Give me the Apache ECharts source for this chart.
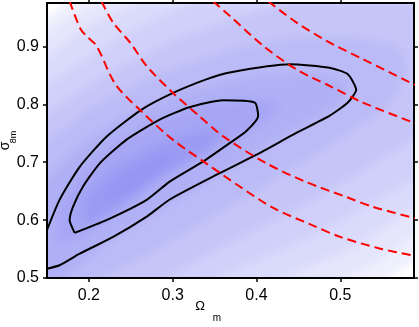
<!DOCTYPE html>
<html lang="en">
<head>
    <meta charset="UTF-8">
    <title>Omega_m - sigma_8</title>
    <script src="https://cdn.jsdelivr.net/npm/echarts@6/dist/echarts.min.js"></script>
    <style>
        html, body { margin: 0; padding: 0; background: #fff; }
        #stage { position: relative; width: 419px; height: 327px; }
        /* plot area window for the blurred shading */
        #bgClip { position: absolute; left: 47px; top: 3px; width: 367px; height: 275px; overflow: hidden; }
        #bg { position: absolute; left: -47px; top: -3px; width: 419px; height: 327px; filter: blur(4px); }
        #main { position: absolute; left: 0; top: 0; width: 419px; height: 327px; }
    </style>
</head>
<body>
<div id="stage">
    <div id="bgClip"><div id="bg"></div></div>
    <div id="main"></div>
</div>
<script type="text/javascript">
    // axis ticks
    var xTicks = [0.2, 0.3, 0.4, 0.5];
    var yTicks = [0.5, 0.6, 0.7, 0.8, 0.9];

    // black likelihood contours (Omega_m, sigma_8)
    var outerContour = [[0.150,0.583],[0.165,0.635],[0.189,0.692],[0.221,0.744],[0.262,0.790],[0.298,0.818],[0.340,0.843],[0.368,0.855],[0.440,0.869],[0.487,0.863],[0.509,0.852],[0.519,0.825],[0.509,0.803],[0.487,0.780],[0.448,0.751],[0.400,0.713],[0.356,0.681],[0.297,0.636],[0.269,0.606],[0.229,0.571],[0.189,0.542],[0.165,0.522],[0.150,0.516]];
    var innerContour = [[0.183,0.578],[0.177,0.600],[0.181,0.623],[0.193,0.658],[0.213,0.698],[0.245,0.739],[0.285,0.774],[0.320,0.795],[0.360,0.807],[0.398,0.803],[0.402,0.780],[0.388,0.754],[0.368,0.733],[0.336,0.701],[0.296,0.666],[0.269,0.635],[0.221,0.600],[0.183,0.578]];

    // red dashed constraint curves
    var redA = [[0.177,0.978],[0.190,0.930],[0.197,0.918],[0.209,0.901],[0.232,0.834],[0.264,0.786],[0.300,0.739],[0.340,0.698],[0.380,0.658],[0.420,0.621],[0.467,0.591],[0.500,0.571],[0.547,0.551],[0.590,0.538]];
    var redB = [[0.215,0.978],[0.229,0.941],[0.249,0.907],[0.269,0.866],[0.300,0.820],[0.330,0.782],[0.360,0.745],[0.412,0.698],[0.459,0.666],[0.507,0.640],[0.539,0.623],[0.590,0.603]];
    var redC = [[0.348,0.978],[0.368,0.953],[0.408,0.901],[0.448,0.860],[0.487,0.832],[0.527,0.803],[0.590,0.767]];
    var redD = [[0.414,0.978],[0.448,0.941],[0.487,0.907],[0.527,0.878],[0.590,0.833]];

    // shaded likelihood levels (region above each level)
    var shadeLevels = [0.1, 0.2, 0.3, 0.4, 0.5, 0.6, 0.7, 0.8, 0.9, 1.0];
    var shade1 = [[0.11,0.925],[0.14,0.943],[0.163,0.963],[0.185,0.985],[0.20,1.0],[0.63,1.0],[0.63,0.545],[0.588,0.53],[0.572,0.512],[0.545,0.49],[0.53,0.465],[0.11,0.465]];
    var shade2 = [[0.11,0.89],[0.14,0.912],[0.18,0.952],[0.225,0.985],[0.245,1.0],[0.63,1.0],[0.63,0.6],[0.588,0.575],[0.545,0.53],[0.487,0.49],[0.46,0.465],[0.11,0.465]];
    var shade3 = [[0.11,0.845],[0.14,0.872],[0.2,0.935],[0.275,0.985],[0.30,1.0],[0.63,1.0],[0.63,0.64],[0.588,0.62],[0.51,0.55],[0.415,0.49],[0.38,0.465],[0.11,0.465]];
    var shade4 = [[0.11,0.795],[0.14,0.822],[0.235,0.915],[0.335,0.985],[0.36,1.0],[0.63,1.0],[0.63,0.69],[0.588,0.67],[0.47,0.575],[0.335,0.49],[0.30,0.465],[0.11,0.465]];
    var shade5 = [[0.11,0.745],[0.14,0.772],[0.22,0.85],[0.31,0.915],[0.38,0.95],[0.455,0.985],[0.49,1.0],[0.63,1.0],[0.63,0.76],[0.588,0.74],[0.52,0.68],[0.45,0.62],[0.36,0.555],[0.275,0.49],[0.24,0.465],[0.11,0.465]];
    var shade6 = [[0.11,0.69],[0.14,0.722],[0.2,0.79],[0.28,0.85],[0.37,0.895],[0.45,0.915],[0.52,0.915],[0.57,0.9],[0.58,0.86],[0.56,0.8],[0.5,0.74],[0.42,0.67],[0.34,0.6],[0.27,0.54],[0.2,0.49],[0.17,0.465],[0.11,0.465]];
    var shade7 = [[0.11,0.62],[0.14,0.66],[0.19,0.73],[0.25,0.785],[0.32,0.825],[0.4,0.85],[0.47,0.855],[0.51,0.84],[0.5,0.8],[0.45,0.76],[0.38,0.7],[0.3,0.63],[0.23,0.57],[0.17,0.5],[0.15,0.475],[0.11,0.465]];
    var shade8 = [[0.16,0.56],[0.165,0.63],[0.19,0.68],[0.23,0.73],[0.28,0.77],[0.34,0.8],[0.4,0.81],[0.43,0.8],[0.41,0.77],[0.36,0.73],[0.3,0.68],[0.24,0.62],[0.19,0.57]];
    var shade9 = [[0.19,0.6],[0.2,0.65],[0.23,0.69],[0.28,0.73],[0.33,0.755],[0.36,0.755],[0.34,0.72],[0.29,0.68],[0.24,0.63],[0.21,0.6]];
    var shade10 = [[0.215,0.63],[0.235,0.67],[0.27,0.7],[0.3,0.715],[0.3,0.7],[0.27,0.67],[0.24,0.64]];
    var shadePolys = [shade1, shade2, shade3, shade4, shade5, shade6, shade7, shade8, shade9, shade10];

    // white -> peak blue
    function shadeColor(t) {
        var r = Math.round(255 - 105 * t);
        var b = Math.round(255 - 12 * t);
        return 'rgb(' + r + ',' + r + ',' + b + ')';
    }

    var font = '"Liberation Sans", Arial, sans-serif';
    var gridBox = { left: 47, right: 5, top: 3, bottom: 49, containLabel: false, outerBoundsMode: 'none' };
    var xRange = { min: 0.15, max: 0.588 };
    var yRange = { min: 0.5, max: 0.975 };

    // ---- background shading (blurred layer) ----
    var bgChart = echarts.init(document.getElementById('bg'), null, { renderer: 'canvas' });
    var bgSeries = [];
    shadePolys.forEach(function (poly, i) {
        var t = Math.min(1, shadeLevels[i] + 0.05);
        bgSeries.push({
            type: 'custom',
            silent: true,
            clip: false,
            data: poly,
            renderItem: function (params, api) {
                if (params.dataIndex !== 0) return;
                var pts = poly.map(function (p) { return api.coord(p); });
                return { type: 'polygon', shape: { points: pts }, style: { fill: shadeColor(t), stroke: null } };
            }
        });
    });
    bgChart.setOption({
        animation: false,
        grid: gridBox,
        xAxis: { type: 'value', min: xRange.min, max: xRange.max, show: false },
        yAxis: { type: 'value', min: yRange.min, max: yRange.max, show: false },
        series: bgSeries
    });

    // ---- lines, axes and labels ----
    var chart = echarts.init(document.getElementById('main'), null, { renderer: 'canvas' });

    function blackLine(d) {
        return { type: 'line', data: d, symbol: 'none', silent: true, clip: true, smooth: 0.2,
                 lineStyle: { color: '#000', width: 2 } };
    }
    function redLine(d) {
        return { type: 'line', data: d, symbol: 'none', silent: true, clip: true, smooth: 0.3,
                 lineStyle: { color: '#ff0000', width: 2, type: [9, 5] } };
    }

    var axisLine = { show: true, onZero: false, lineStyle: { color: '#000', width: 2 } };
    var tickLine = { color: '#000', width: 1.5 };
    function tickFmt(v) { return v.toFixed(1); }

    chart.setOption({
        animation: false,
        grid: gridBox,
        xAxis: [{
            type: 'value', min: xRange.min, max: xRange.max, position: 'bottom',
            axisLine: axisLine,
            axisTick: { show: true, length: 4, customValues: xTicks, lineStyle: tickLine },
            axisLabel: { color: '#000', fontSize: 16, fontFamily: font, margin: 10, customValues: xTicks, formatter: tickFmt },
            splitLine: { show: false }
        }, {
            type: 'value', min: xRange.min, max: xRange.max, position: 'top',
            axisLine: axisLine,
            axisTick: { show: true, length: 3, customValues: xTicks, lineStyle: tickLine },
            axisLabel: { show: false },
            splitLine: { show: false }
        }],
        yAxis: [{
            type: 'value', min: yRange.min, max: yRange.max, position: 'left',
            axisLine: axisLine,
            axisTick: { show: true, length: 4, customValues: yTicks, lineStyle: tickLine },
            axisLabel: { color: '#000', fontSize: 16, fontFamily: font, margin: 8, customValues: yTicks, formatter: tickFmt },
            splitLine: { show: false }
        }, {
            type: 'value', min: yRange.min, max: yRange.max, position: 'right',
            axisLine: axisLine,
            axisTick: { show: true, length: 4, customValues: yTicks, lineStyle: tickLine },
            axisLabel: { show: false },
            splitLine: { show: false }
        }],
        graphic: [
            { type: 'text', x: 200, y: 306, silent: true,
              style: { text: 'Ω', font: '13px ' + font, fill: '#000', align: 'center', verticalAlign: 'middle' } },
            { type: 'text', x: 217, y: 318, silent: true,
              style: { text: 'm', font: '10px ' + font, fill: '#000', align: 'center', verticalAlign: 'middle' } },
            { type: 'text', x: 5, y: 146, rotation: Math.PI / 2, silent: true,
              style: { text: 'σ', font: '14px ' + font, fill: '#000', align: 'center', verticalAlign: 'middle' } },
            { type: 'text', x: 13.5, y: 137, rotation: Math.PI / 2, silent: true,
              style: { text: '8m', font: '9px ' + font, fill: '#000', align: 'center', verticalAlign: 'middle' } }
        ],
        series: [
            blackLine(outerContour), blackLine(innerContour),
            redLine(redA), redLine(redB), redLine(redC), redLine(redD)
        ]
    });
</script>
</body>
</html>
